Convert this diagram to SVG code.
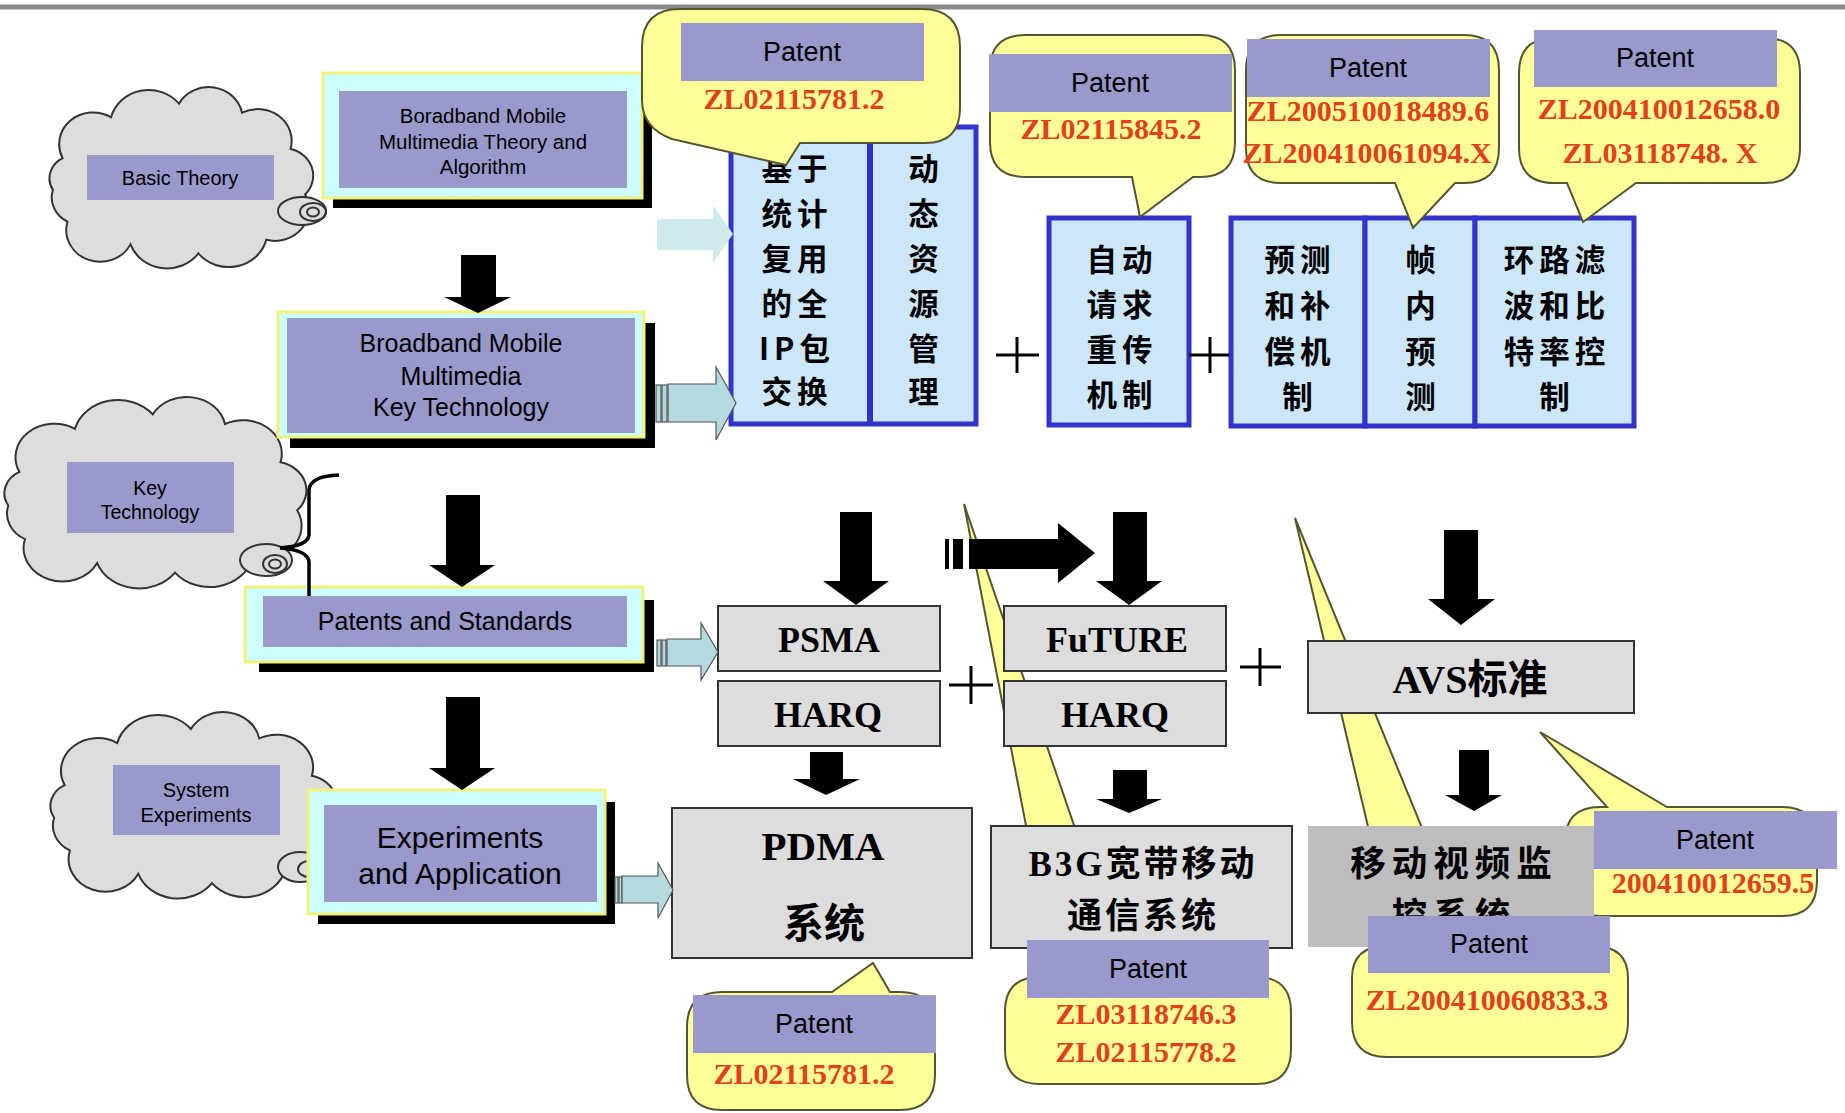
<svg xmlns="http://www.w3.org/2000/svg" xmlns:xlink="http://www.w3.org/1999/xlink" width="1845" height="1113" viewBox="0 0 1845 1113">
<style>
.sans{font-family:"Liberation Sans",Arial,sans-serif;fill:#000;text-anchor:middle;dominant-baseline:central}
.red{font-family:"Liberation Serif","Times New Roman",serif;font-weight:bold;fill:#E2401A;text-anchor:middle;dominant-baseline:central;font-size:30px}
.cjk{font-family:"Noto Sans CJK SC",sans-serif;font-weight:bold;fill:#000;text-anchor:middle;dominant-baseline:central;font-size:30.5px;letter-spacing:5px}
.ser{font-family:"Liberation Serif","Noto Sans CJK SC",serif;font-weight:bold;fill:#000;text-anchor:middle;dominant-baseline:central}
.cloud{fill:#DDDDDD;stroke:#333;stroke-width:2}
.oval{fill:#DDDDDD;stroke:#333;stroke-width:2}
.outer{fill:#CCFFFF;stroke:#F2F27A;stroke-width:3}
.inner{fill:#9999CC}
.shadow{fill:#000}
.blue{fill:#CCE6FA;stroke:#3333CC;stroke-width:5}
.gray{fill:#DDDDDD;stroke:#333;stroke-width:2}
.callout{fill:#FFFF99;stroke:#555533;stroke-width:2}
.plabel{fill:#9999CC}
.blk{fill:#000}
.teal{fill:#B5DADD;stroke:#555;stroke-width:1.2}
.plus{stroke:#000;stroke-width:3;fill:none}
</style>
<defs>
<path id="cloudShape" vector-effect="non-scaling-stroke" d="M 30,75 A 35,35 0 0 1 80,30 A 40,40 0 0 1 150,15 A 35,35 0 0 1 215,25 A 35,35 0 0 1 265,65 A 30,30 0 0 1 280,115 A 35,35 0 0 1 240,165 A 40,40 0 0 1 170,180 A 40,40 0 0 1 100,170 A 35,35 0 0 1 35,145 A 30,30 0 0 1 20,110 A 25,25 0 0 1 30,75 Z"/>
</defs>
<rect x="0" y="0" width="1845" height="1113" fill="#FFFFFF"/>
<line x1="0" y1="7" x2="1845" y2="7" stroke="#8A8A8A" stroke-width="5"/>

<g id="cloud-basic-theory">
<use xlink:href="#cloudShape" class="cloud" transform="translate(33.5,90) scale(0.970,0.908)"/>
<ellipse class="oval" cx="302" cy="211" rx="24" ry="14"/>
<ellipse cx="313" cy="212" rx="13" ry="9" fill="none" stroke="#333" stroke-width="2"/>
<ellipse cx="313" cy="212" rx="6" ry="4.5" fill="none" stroke="#333" stroke-width="2"/>
<rect class="inner" x="87" y="155" width="187" height="45"/>
<text class="sans" x="180" y="178" font-size="20">Basic Theory</text>
</g>

<g id="cloud-key-technology">
<use xlink:href="#cloudShape" class="cloud" transform="translate(-13.9,400) scale(1.111,0.959)"/>
<ellipse class="oval" cx="266" cy="560" rx="26" ry="16"/>
<ellipse cx="275" cy="564" rx="12" ry="9" fill="none" stroke="#333" stroke-width="2"/>
<ellipse cx="275" cy="564" rx="6" ry="4.5" fill="none" stroke="#333" stroke-width="2"/>
<rect class="inner" x="67" y="462" width="167" height="71"/>
<text class="sans" x="150" y="488" font-size="19.5">Key</text>
<text class="sans" x="150" y="512" font-size="19.5">Technology</text>
</g>

<g id="cloud-system-experiments">
<use xlink:href="#cloudShape" class="cloud" transform="translate(33.1,715) scale(1.052,0.934)"/>
<ellipse class="oval" cx="300" cy="867" rx="22" ry="15"/>
<ellipse cx="309" cy="869" rx="11" ry="8" fill="none" stroke="#333" stroke-width="2"/>
<rect class="inner" x="113" y="765" width="167" height="70"/>
<text class="sans" x="196" y="790" font-size="20">System</text>
<text class="sans" x="196" y="815" font-size="20">Experiments</text>
</g>

<g id="box-theory">
<rect class="shadow" x="333" y="83" width="319" height="125"/>
<rect class="outer" x="323" y="73" width="319" height="125"/>
<rect class="inner" x="339" y="91" width="288" height="97"/>
<text class="sans" x="483" y="115" font-size="20.5">Boradband Mobile</text>
<text class="sans" x="483" y="141" font-size="20.5">Multimedia Theory and</text>
<text class="sans" x="483" y="166" font-size="20.5">Algorithm</text>
</g>

<g id="box-key-technology">
<rect class="shadow" x="290" y="323" width="365" height="125"/>
<rect class="outer" x="278" y="312" width="366" height="125"/>
<rect class="inner" x="287" y="318" width="348" height="115"/>
<text class="sans" x="461" y="343" font-size="25">Broadband Mobile</text>
<text class="sans" x="461" y="376" font-size="25">Multimedia</text>
<text class="sans" x="461" y="407" font-size="25">Key Technology</text>
</g>

<g id="box-patents-standards">
<rect class="shadow" x="259" y="600" width="395" height="72"/>
<rect class="outer" x="245" y="587" width="398" height="75"/>
<rect class="inner" x="263" y="596" width="364" height="51"/>
<text class="sans" x="445" y="621" font-size="25">Patents and Standards</text>
</g>

<g id="box-experiments">
<rect class="shadow" x="318" y="802" width="297" height="122"/>
<rect class="outer" x="308" y="790" width="297" height="124"/>
<rect class="inner" x="324" y="805" width="273" height="97"/>
<text class="sans" x="460" y="837" font-size="30">Experiments</text>
<text class="sans" x="460" y="873" font-size="30">and Application</text>
</g>

<g id="callout-b3g-tail">
<polygon class="callout" points="964,504 1049,945 1115,945"/>
</g>
<g id="callout-video-tail">
<polygon class="callout" points="1295,518 1396,945 1470,945"/>
</g>
<g id="callout-avs-body">
<path class="callout" d="M 1600,807 H 1607 L 1540,732 L 1667,807 H 1782 Q 1817,807 1817,842 V 881 Q 1817,916 1782,916 H 1600 Q 1565,916 1565,881 V 842 Q 1565,807 1600,807 Z"/>
</g>

<g id="box-ip">
<rect class="blue" x="731" y="127" width="245" height="297"/>
<line x1="870" y1="127" x2="870" y2="424" stroke="#3333CC" stroke-width="6"/>
<text class="cjk"><tspan x="797" y="167">基于</tspan><tspan x="797" y="212">统计</tspan><tspan x="797" y="257">复用</tspan><tspan x="797" y="302">的全</tspan><tspan x="797" y="347">IP包</tspan><tspan x="797" y="390">交换</tspan></text>
<text class="cjk"><tspan x="926" y="167">动</tspan><tspan x="926" y="212">态</tspan><tspan x="926" y="257">资</tspan><tspan x="926" y="302">源</tspan><tspan x="926" y="347">管</tspan><tspan x="926" y="390">理</tspan></text>
</g>

<g id="box-arq">
<rect class="blue" x="1049" y="218" width="140" height="207"/>
<text class="cjk"><tspan x="1122" y="258">自动</tspan><tspan x="1122" y="303">请求</tspan><tspan x="1122" y="348">重传</tspan><tspan x="1122" y="393">机制</tspan></text>
</g>

<g id="box-prediction">
<rect class="blue" x="1231" y="218" width="134" height="208"/>
<text class="cjk"><tspan x="1300" y="258">预测</tspan><tspan x="1300" y="304">和补</tspan><tspan x="1300" y="350">偿机</tspan><tspan x="1300" y="395">制</tspan></text>
</g>

<g id="box-intra">
<rect class="blue" x="1365" y="218" width="110" height="208"/>
<text class="cjk"><tspan x="1423" y="258">帧</tspan><tspan x="1423" y="304">内</tspan><tspan x="1423" y="350">预</tspan><tspan x="1423" y="395">测</tspan></text>
</g>

<g id="box-loopfilter">
<rect class="blue" x="1475" y="218" width="159" height="208"/>
<text class="cjk"><tspan x="1557" y="258">环路滤</tspan><tspan x="1557" y="304">波和比</tspan><tspan x="1557" y="350">特率控</tspan><tspan x="1557" y="395">制</tspan></text>
</g>

<g id="box-psma">
<rect class="gray" x="718" y="606" width="222" height="65"/>
<text class="ser" x="829" y="640" font-size="36">PSMA</text>
</g>
<g id="box-harq1">
<rect class="gray" x="718" y="681" width="222" height="65"/>
<text class="ser" x="828" y="715" font-size="36">HARQ</text>
</g>
<g id="box-future">
<rect class="gray" x="1004" y="606" width="222" height="65"/>
<text class="ser" x="1117" y="640" font-size="36">FuTURE</text>
</g>
<g id="box-harq2">
<rect class="gray" x="1004" y="681" width="222" height="65"/>
<text class="ser" x="1115" y="715" font-size="36">HARQ</text>
</g>
<g id="box-pdma">
<rect class="gray" x="672" y="808" width="300" height="150"/>
<text class="ser" x="823" y="846" font-size="41">PDMA</text>
<text class="ser" x="824" y="924" font-size="41">系统</text>
</g>
<g id="box-b3g">
<rect class="gray" x="991" y="826" width="301" height="122"/>
<text class="ser" font-size="35" letter-spacing="3"><tspan x="1143" y="864">B3G宽带移动</tspan><tspan x="1143" y="916">通信系统</tspan></text>
</g>
<g id="box-avs">
<rect class="gray" x="1308" y="641" width="326" height="72"/>
<text class="ser" x="1470" y="679" font-size="40">AVS标准</text>
</g>
<g id="box-video">
<rect x="1308" y="826" width="286" height="121" fill="#BDBDBD"/>
<text class="ser" font-size="35.5" letter-spacing="6"><tspan x="1454" y="864">移动视频监</tspan><tspan x="1454" y="916">控系统</tspan></text>
</g>

<g id="callout-1">
<path class="callout" d="M 680,9 H 922 Q 960,9 960,47 V 108 Q 960,143 925,143 H 800 L 786,165 L 672,139 Q 642,128 642,100 V 47 Q 642,9 680,9 Z"/>
<rect class="plabel" x="681" y="23" width="243" height="58"/>
<text class="sans" x="802" y="52" font-size="27">Patent</text>
<text class="red" x="794" y="98">ZL02115781.2</text>
</g>
<g id="callout-2">
<path class="callout" d="M 1025,35 H 1200 Q 1235,35 1235,70 V 142 Q 1235,177 1200,177 H 1193 L 1140,217 L 1132,177 H 1025 Q 990,177 990,142 V 70 Q 990,35 1025,35 Z"/>
<rect class="plabel" x="989" y="54" width="243" height="58"/>
<text class="sans" x="1110" y="83" font-size="27">Patent</text>
<text class="red" x="1111" y="128">ZL02115845.2</text>
</g>
<g id="callout-3">
<path class="callout" d="M 1281,35 H 1464 Q 1499,35 1499,70 V 148 Q 1499,183 1464,183 H 1455 L 1413,228 L 1395,183 H 1281 Q 1246,183 1246,148 V 70 Q 1246,35 1281,35 Z"/>
<rect class="plabel" x="1247" y="39" width="243" height="58"/>
<text class="sans" x="1368" y="68" font-size="27">Patent</text>
<text class="red"><tspan x="1368" y="110">ZL200510018489.6</tspan><tspan x="1367" y="152">ZL200410061094.X</tspan></text>
</g>
<g id="callout-4">
<path class="callout" d="M 1554,38 H 1765 Q 1800,38 1800,73 V 148 Q 1800,183 1765,183 H 1636 L 1583,222 L 1567,183 H 1554 Q 1519,183 1519,148 V 73 Q 1519,38 1554,38 Z"/>
<rect class="plabel" x="1534" y="30" width="243" height="57"/>
<text class="sans" x="1655" y="58" font-size="27">Patent</text>
<text class="red"><tspan x="1659" y="108">ZL200410012658.0</tspan><tspan x="1660" y="152">ZL03118748. X</tspan></text>
</g>
<g id="callout-5">
<path class="callout" d="M 722,992 H 832 L 873,963 L 890,992 H 900 Q 935,992 935,1027 V 1075 Q 935,1110 900,1110 H 722 Q 687,1110 687,1075 V 1027 Q 687,992 722,992 Z"/>
<rect class="plabel" x="693" y="995" width="243" height="58"/>
<text class="sans" x="814" y="1024" font-size="27">Patent</text>
<text class="red" x="804" y="1073">ZL02115781.2</text>
</g>
<g id="callout-6">
<rect class="plabel" x="1594" y="811" width="243" height="58"/>
<text class="sans" x="1715" y="840" font-size="27">Patent</text>
<text class="red" x="1713" y="882">200410012659.5</text>
</g>
<g id="callout-7">
<path class="callout" d="M 1387,946 H 1593 Q 1628,946 1628,978 V 1022 Q 1628,1057 1593,1057 H 1387 Q 1352,1057 1352,1022 V 978 Q 1352,946 1387,946 Z"/>
<rect class="plabel" x="1368" y="916" width="242" height="57"/>
<text class="sans" x="1489" y="944" font-size="27">Patent</text>
<text class="red" x="1487" y="999">ZL200410060833.3</text>
</g>
<g id="callout-8">
<path class="callout" d="M 1040,977 H 1256 Q 1291,977 1291,1012 V 1049 Q 1291,1084 1256,1084 H 1040 Q 1005,1084 1005,1049 V 1012 Q 1005,977 1040,977 Z"/>
<rect class="plabel" x="1027" y="940" width="242" height="58"/>
<text class="sans" x="1148" y="969" font-size="27">Patent</text>
<text class="red"><tspan x="1146" y="1013">ZL03118746.3</tspan><tspan x="1146" y="1051">ZL02115778.2</tspan></text>
</g>

<g id="connectors">
<polygon class="blk" points="461,255 496,255 496,297 511,297 478,313 444,297 461,297"/>
<polygon class="blk" points="446,495 480,495 480,565 495,565 462,587 429,565 446,565"/>
<polygon class="blk" points="446,697 480,697 480,768 495,768 462,790 429,768 446,768"/>
<polygon class="blk" points="840,512 872,512 872,581 889,581 856,605 823,581 840,581"/>
<polygon class="blk" points="1113,512 1147,512 1147,581 1162,581 1129,605 1096,581 1113,581"/>
<polygon class="blk" points="810,752 843,752 843,779 860,779 826,795 793,779 810,779"/>
<polygon class="blk" points="1113,770 1147,770 1147,799 1162,799 1129,813 1096,799 1113,799"/>
<polygon class="blk" points="1444,530 1478,530 1478,599 1495,599 1461,625 1428,599 1444,599"/>
<polygon class="blk" points="1459,750 1489,750 1489,795 1502,795 1474,811 1445,795 1459,795"/>
<rect class="blk" x="945" y="539" width="4" height="30"/>
<rect class="blk" x="953" y="539" width="10" height="30"/>
<polygon class="blk" points="969,539 1058,539 1058,523 1095,553 1058,583 1058,569 969,569"/>
<polygon points="657,219 713,219 713,205 733,234 713,263 713,250 657,250" fill="#CFE9EC"/>
<rect class="teal" x="656" y="385" width="5" height="37"/>
<rect class="teal" x="662" y="385" width="5" height="37"/>
<polygon class="teal" points="668,384 716,384 716,367 736,403 716,440 716,422 668,422"/>
<rect class="teal" x="657" y="640" width="4" height="26"/>
<rect class="teal" x="662" y="640" width="4" height="26"/>
<polygon class="teal" points="667,639 701,639 701,623 718,652 701,680 701,666 667,666"/>
<rect class="teal" x="615" y="877" width="3" height="26"/>
<rect class="teal" x="619" y="877" width="3" height="26"/>
<polygon class="teal" points="622,876 658,876 658,863 673,890 658,918 658,903 622,903"/>
<path d="M 339,475 Q 310,476 309,490 L 309,535 Q 308,546 280,548 Q 308,550 309,562 L 309,596" fill="none" stroke="#000" stroke-width="3.5"/>
</g>

<g id="operators">
<path class="plus" d="M 996,355 H 1039 M 1017,337 V 373"/>
<path class="plus" d="M 1189,355 H 1229 M 1210,337 V 373"/>
<path class="plus" d="M 949,685 H 993 M 971,666 V 704"/>
<path class="plus" d="M 1240,667 H 1281 M 1260,648 V 686"/>
</g>
</svg>
